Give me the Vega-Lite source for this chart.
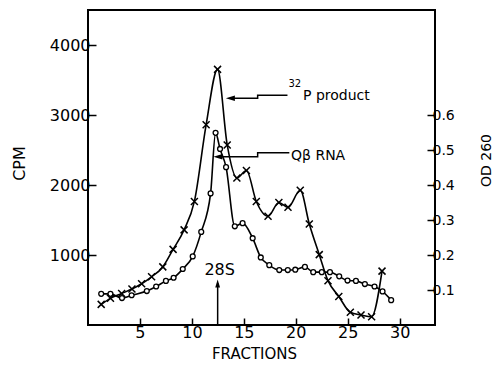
{
  "$schema": "https://vega.github.io/schema/vega-lite/v6.json",
  "width": 347,
  "height": 315,
  "autosize": "none",
  "padding": {"left": 88, "top": 10, "right": 58, "bottom": 46},
  "background": "white",
  "config": {
    "font": "DejaVu Sans",
    "view": {"stroke": "black", "strokeWidth": 2},
    "axis": {
      "domain": false,
      "grid": false,
      "labelFont": "DejaVu Sans",
      "labelColor": "black",
      "tickColor": "black",
      "tickWidth": 1.5,
      "titleFont": "DejaVu Sans",
      "titleFontWeight": "normal",
      "titleColor": "black"
    }
  },
  "datasets": {
    "product": [
      {"fraction": 1.27, "cpm": 295},
      {"fraction": 2.16, "cpm": 381},
      {"fraction": 3.24, "cpm": 450},
      {"fraction": 4.23, "cpm": 514},
      {"fraction": 5.16, "cpm": 590},
      {"fraction": 6.12, "cpm": 688},
      {"fraction": 7.2, "cpm": 830},
      {"fraction": 8.19, "cpm": 1080},
      {"fraction": 9.25, "cpm": 1359},
      {"fraction": 10.24, "cpm": 1765},
      {"fraction": 11.37, "cpm": 2860},
      {"fraction": 12.47, "cpm": 3652},
      {"fraction": 13.4, "cpm": 2572},
      {"fraction": 14.33, "cpm": 2100},
      {"fraction": 15.25, "cpm": 2208},
      {"fraction": 16.2, "cpm": 1765},
      {"fraction": 17.33, "cpm": 1553},
      {"fraction": 18.37, "cpm": 1750},
      {"fraction": 19.25, "cpm": 1681},
      {"fraction": 20.43, "cpm": 1925},
      {"fraction": 21.3, "cpm": 1443},
      {"fraction": 22.26, "cpm": 1005},
      {"fraction": 23.1, "cpm": 633},
      {"fraction": 24.14, "cpm": 408},
      {"fraction": 25.25, "cpm": 181},
      {"fraction": 26.28, "cpm": 143},
      {"fraction": 27.3, "cpm": 119},
      {"fraction": 28.3, "cpm": 770}
    ],
    "rna": [
      {"fraction": 1.27, "od": 0.089},
      {"fraction": 2.16, "od": 0.089},
      {"fraction": 3.27, "od": 0.077},
      {"fraction": 4.2, "od": 0.085},
      {"fraction": 5.66, "od": 0.097},
      {"fraction": 6.56, "od": 0.11},
      {"fraction": 7.5, "od": 0.126},
      {"fraction": 8.24, "od": 0.135},
      {"fraction": 9.12, "od": 0.16},
      {"fraction": 10.08, "od": 0.196},
      {"fraction": 10.9, "od": 0.266},
      {"fraction": 11.8, "od": 0.376},
      {"fraction": 12.28, "od": 0.549},
      {"fraction": 12.71, "od": 0.503},
      {"fraction": 13.29, "od": 0.451},
      {"fraction": 14.13, "od": 0.282},
      {"fraction": 14.88, "od": 0.291},
      {"fraction": 15.85, "od": 0.248},
      {"fraction": 16.63, "od": 0.193},
      {"fraction": 17.45, "od": 0.171},
      {"fraction": 18.41, "od": 0.157},
      {"fraction": 19.23, "od": 0.157},
      {"fraction": 19.95, "od": 0.158},
      {"fraction": 20.88, "od": 0.166},
      {"fraction": 21.68, "od": 0.151},
      {"fraction": 22.5, "od": 0.151},
      {"fraction": 23.29, "od": 0.151},
      {"fraction": 24.18, "od": 0.139},
      {"fraction": 24.98, "od": 0.127},
      {"fraction": 25.79, "od": 0.126},
      {"fraction": 26.65, "od": 0.117},
      {"fraction": 27.58, "od": 0.11},
      {"fraction": 28.35, "od": 0.096},
      {"fraction": 29.18, "od": 0.071}
    ],
    "leaders": [
      {"label": "product", "seq": 1, "fraction": 19.2, "cpm": 3281},
      {"label": "product", "seq": 2, "fraction": 16.33, "cpm": 3281},
      {"label": "product", "seq": 3, "fraction": 16.33, "cpm": 3239},
      {"label": "product", "seq": 4, "fraction": 13.7, "cpm": 3239},
      {"label": "rna", "seq": 1, "fraction": 19.38, "cpm": 2461},
      {"label": "rna", "seq": 2, "fraction": 16.33, "cpm": 2461},
      {"label": "rna", "seq": 3, "fraction": 16.33, "cpm": 2403},
      {"label": "rna", "seq": 4, "fraction": 12.5, "cpm": 2403},
      {"label": "28S", "seq": 1, "fraction": 12.48, "cpm": 0},
      {"label": "28S", "seq": 2, "fraction": 12.48, "cpm": 600}
    ],
    "leftHeads": [
      {"label": "product", "fraction": 13.27, "cpm": 3239},
      {"label": "rna", "fraction": 12.07, "cpm": 2403}
    ],
    "upHeads": [
      {"label": "28S", "fraction": 12.48, "cpm": 650}
    ],
    "notes": [
      {"text": "P product", "fraction": 20.7, "cpm": 3214},
      {"text": "Qβ RNA", "fraction": 19.54, "cpm": 2361}
    ],
    "sup": [
      {"text": "32", "fraction": 19.3, "cpm": 3400}
    ],
    "marker": [
      {"text": "28S", "fraction": 12.67, "cpm": 720}
    ]
  },
  "layer": [
    {
      "layer": [
        {
          "data": {"name": "product"},
          "mark": {"type": "line", "interpolate": "monotone", "color": "black", "strokeWidth": 1.6},
          "encoding": {
            "x": {
              "field": "fraction",
              "type": "quantitative",
              "scale": {"domain": [0, 33.4], "nice": false, "zero": false},
              "axis": {
                "values": [5, 10, 15, 20, 25, 30],
                "tickSize": -7,
                "labelPadding": 6,
                "labelFontSize": 16,
                "title": "FRACTIONS",
                "titleFontSize": 15,
                "titleX": 166,
                "titleY": 28,
                "titleBaseline": "middle"
              }
            },
            "y": {
              "field": "cpm",
              "type": "quantitative",
              "scale": {"domain": [0, 4500], "nice": false},
              "axis": {
                "values": [1000, 2000, 3000, 4000],
                "format": "d",
                "tickSize": -8,
                "labelPadding": 6,
                "labelFontSize": 16,
                "title": "CPM",
                "titleFontSize": 16,
                "titleAngle": 270,
                "titleX": -69,
                "titleY": 153,
                "titleAlign": "center",
                "titleBaseline": "middle"
              }
            }
          }
        },
        {
          "data": {"name": "product"},
          "mark": {"type": "point", "shape": "M-1,-1L1,1M-1,1L1,-1", "filled": false, "stroke": "black", "strokeWidth": 1.5, "size": 49, "opacity": 1},
          "encoding": {
            "x": {"field": "fraction", "type": "quantitative"},
            "y": {"field": "cpm", "type": "quantitative"}
          }
        },
        {
          "data": {"name": "leaders"},
          "mark": {"type": "line", "color": "black", "strokeWidth": 1.5},
          "encoding": {
            "x": {"field": "fraction", "type": "quantitative"},
            "y": {"field": "cpm", "type": "quantitative"},
            "detail": {"field": "label"},
            "order": {"field": "seq"}
          }
        },
        {
          "data": {"name": "leftHeads"},
          "mark": {"type": "point", "shape": "M0,0L2,-0.6L2,0.6Z", "filled": true, "color": "black", "size": 81, "opacity": 1},
          "encoding": {
            "x": {"field": "fraction", "type": "quantitative"},
            "y": {"field": "cpm", "type": "quantitative"}
          }
        },
        {
          "data": {"name": "upHeads"},
          "mark": {"type": "point", "shape": "M0,0L-0.6,2L0.6,2Z", "filled": true, "color": "black", "size": 64, "opacity": 1},
          "encoding": {
            "x": {"field": "fraction", "type": "quantitative"},
            "y": {"field": "cpm", "type": "quantitative"}
          }
        },
        {
          "data": {"name": "notes"},
          "mark": {"type": "text", "align": "left", "baseline": "alphabetic", "fontSize": 14, "color": "black"},
          "encoding": {
            "x": {"field": "fraction", "type": "quantitative"},
            "y": {"field": "cpm", "type": "quantitative"},
            "text": {"field": "text"}
          }
        },
        {
          "data": {"name": "sup"},
          "mark": {"type": "text", "align": "left", "baseline": "alphabetic", "fontSize": 10, "color": "black"},
          "encoding": {
            "x": {"field": "fraction", "type": "quantitative"},
            "y": {"field": "cpm", "type": "quantitative"},
            "text": {"field": "text"}
          }
        },
        {
          "data": {"name": "marker"},
          "mark": {"type": "text", "align": "center", "baseline": "alphabetic", "fontSize": 16, "color": "black"},
          "encoding": {
            "x": {"field": "fraction", "type": "quantitative"},
            "y": {"field": "cpm", "type": "quantitative"},
            "text": {"field": "text"}
          }
        }
      ]
    },
    {
      "layer": [
        {
          "data": {"name": "rna"},
          "mark": {"type": "line", "interpolate": "monotone", "color": "black", "strokeWidth": 1.6},
          "encoding": {
            "x": {"field": "fraction", "type": "quantitative"},
            "y": {
              "field": "od",
              "type": "quantitative",
              "scale": {"domain": [0, 0.9], "nice": false},
              "axis": {
                "orient": "right",
                "values": [0.1, 0.2, 0.3, 0.4, 0.5, 0.6],
                "format": ".1f",
                "tickSize": -8,
                "labelPadding": 5,
                "labelFontSize": 14,
                "title": "OD 260",
                "titleFontSize": 14,
                "titleAngle": 270,
                "titleX": 51,
                "titleY": 150,
                "titleAlign": "center",
                "titleBaseline": "middle"
              }
            }
          }
        },
        {
          "data": {"name": "rna"},
          "mark": {"type": "point", "shape": "circle", "filled": true, "fill": "white", "stroke": "black", "strokeWidth": 1.3, "size": 24, "opacity": 1},
          "encoding": {
            "x": {"field": "fraction", "type": "quantitative"},
            "y": {"field": "od", "type": "quantitative"}
          }
        }
      ]
    }
  ],
  "resolve": {"scale": {"y": "independent"}}
}
